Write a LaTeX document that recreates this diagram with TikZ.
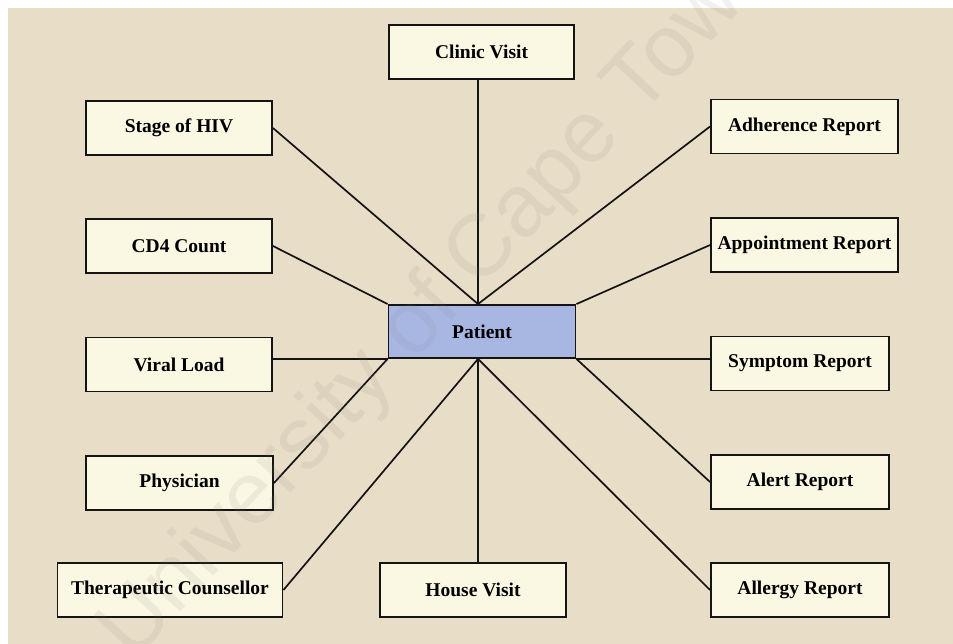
\documentclass[tikz,border=0pt]{standalone}
\usepackage{fontspec}
\setmainfont{Liberation Serif}
\newfontfamily\wmfont{Liberation Sans}
\definecolor{paper}{RGB}{232,221,198}
\definecolor{boxfill}{RGB}{250,247,226}
\definecolor{patientfill}{RGB}{168,182,226}
\definecolor{edge}{RGB}{20,20,20}
\begin{document}
\begin{tikzpicture}[x=1pt,y=-1pt,
  entity/.style={draw=edge, line width=1.9pt, fill=boxfill, rectangle,
    minimum height=54pt, inner sep=0pt,
    font=\fontsize{19.5}{22}\selectfont\bfseries},
  link/.style={draw=edge, line width=1.7pt}]
  % page and paper background
  \useasboundingbox (0,0) rectangle (953,644);
  \fill[white] (0,0) rectangle (953,644);
  \fill[paper] (8,8) rectangle (953,644);

  % entities
  \node[entity, minimum width=185pt] (clinic)  at (481.5,52)  {Clinic Visit};
  \node[entity, minimum width=186pt] (stage)   at (179,128)   {Stage of HIV};
  \node[entity, minimum width=187pt] (adher)   at (804.5,126.5) {Adherence Report};
  \node[entity, minimum width=186pt] (cd4)     at (179,246)   {CD4 Count};
  \node[entity, minimum width=187pt] (appt)    at (804.5,245) {Appointment Report};
  \node[entity, minimum width=187pt, minimum height=53pt, fill=patientfill]
                                     (patient) at (482,331.5) {Patient};
  \node[entity, minimum width=186pt] (viral)   at (179,364.5) {Viral Load};
  \node[entity, minimum width=178pt] (symptom) at (800,363.5) {Symptom Report};
  \node[entity, minimum width=187pt] (phys)    at (179.5,483) {Physician};
  \node[entity, minimum width=178pt] (alert)   at (800,482)   {Alert Report};
  \node[entity, minimum width=225pt] (thera)   at (170,590)   {Therapeutic Counsellor};
  \node[entity, minimum width=186pt] (house)   at (473,590)   {House Visit};
  \node[entity, minimum width=178pt] (allergy) at (800,590)   {Allergy Report};

  % hub points on the patient box
  \coordinate (ptop) at ([xshift=-4pt]patient.north);
  \coordinate (pbot) at ([xshift=-4pt]patient.south);

  % connectors
  \draw[link] (clinic.south -| ptop) -- (ptop);
  \draw[link] (stage.east) -- (ptop);
  \draw[link] (adher.west) -- (ptop);
  \draw[link] (cd4.east) -- (patient.north west);
  \draw[link] (appt.west) -- (patient.north east);
  \draw[link] (viral.east |- patient.south west) -- (patient.south west);
  \draw[link] (symptom.west |- patient.south east) -- (patient.south east);
  \draw[link] (phys.east) -- (patient.south west);
  \draw[link] (alert.west) -- (patient.south east);
  \draw[link] (thera.east) -- (pbot);
  \draw[link] (house.north -| pbot) -- (pbot);
  \draw[link] (allergy.west) -- (pbot);

  % watermark
  \node[rotate=47, text=gray, opacity=0.11, inner sep=0pt,
        font=\wmfont\fontsize{88}{90}\selectfont] (mark) at (440,300)
        {University of Cape Town};
\end{tikzpicture}
\end{document}
